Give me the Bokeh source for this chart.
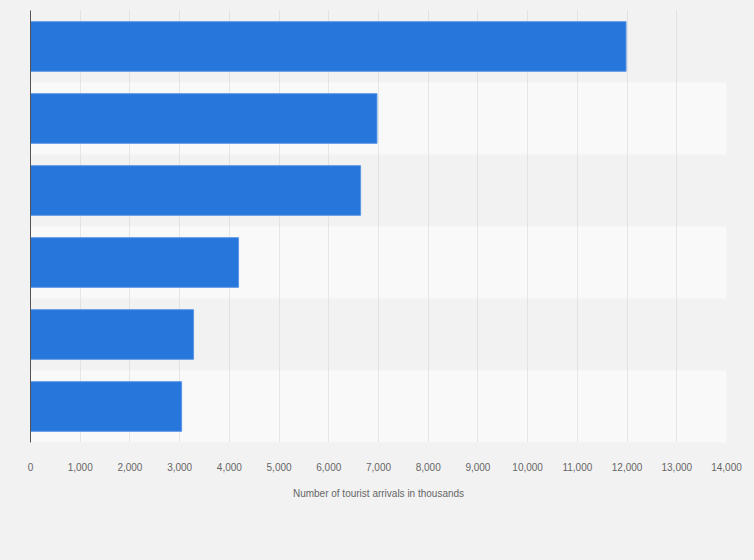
from bokeh.plotting import figure
from bokeh.models import Range1d, FixedTicker, NumeralTickFormatter, Grid, ColumnDataSource
from bokeh.embed import file_html
from bokeh.resources import INLINE

# Data (tourist arrivals in thousands), top to bottom
categories = ["1", "2", "3", "4", "5", "6"]
values = [11980, 6970, 6640, 4185, 3280, 3040]
x_ticks = [0, 1000, 2000, 3000, 4000, 5000, 6000, 7000, 8000, 9000, 10000, 11000, 12000, 13000, 14000]
x_title = "Number of tourist arrivals in thousands"

positions = list(range(len(categories)))
src = ColumnDataSource(dict(cat=categories, y=positions, v=values))

FONT = "Liberation Sans"
BG = "#f2f2f2"

p = figure(width=754, height=560, output_backend="svg", toolbar_location=None,
           x_range=Range1d(0, 14000), y_range=Range1d(len(categories) - 0.5, -0.5),
           min_border_left=30, min_border_right=28, min_border_top=10, min_border_bottom=118)

p.background_fill_color = BG
p.border_fill_color = BG
p.outline_line_color = None

# alternating row bands
band_grid = Grid(dimension=1, ticker=FixedTicker(ticks=[i - 0.5 for i in range(len(categories) + 1)]),
                 grid_line_color=None, band_fill_color="#f9f9f9", band_fill_alpha=1.0)
p.ygrid.visible = False
p.center.insert(0, band_grid)

p.xgrid.ticker = FixedTicker(ticks=x_ticks)
p.xgrid.grid_line_color = "#d2d2d2"
p.xgrid.grid_line_dash = "1 1"
p.xgrid.grid_line_width = 1

p.hbar(y="y", right="v", left=0, height=0.69, source=src,
       fill_color="#2776dc", line_color="#5c97e5", line_width=1)

xa = p.xaxis[0]
xa.ticker = FixedTicker(ticks=x_ticks)
xa.formatter = NumeralTickFormatter(format="0,0")
xa.axis_line_color = None
xa.major_tick_line_color = None
xa.minor_tick_line_color = None
xa.major_tick_out = 0
xa.major_tick_in = 0
xa.major_label_standoff = 20
xa.major_label_text_font = FONT
xa.major_label_text_font_size = "10px"
xa.major_label_text_color = "#666666"
xa.axis_label = x_title
xa.axis_label_text_font = FONT
xa.axis_label_text_font_size = "10px"
xa.axis_label_text_font_style = "normal"
xa.axis_label_text_color = "#666666"
xa.axis_label_standoff = 14

ya = p.yaxis[0]
ya.ticker = FixedTicker(ticks=[])
ya.axis_line_color = "#555555"
ya.axis_line_width = 1
ya.major_tick_line_color = None
ya.minor_tick_line_color = None
ya.major_tick_out = 0
ya.major_tick_in = 0
ya.major_label_standoff = 0

html = file_html(p, INLINE).replace("<head>", "<head><style>body{background:#f2f2f2;}</style>", 1)
open("out.html", "w").write(html)
